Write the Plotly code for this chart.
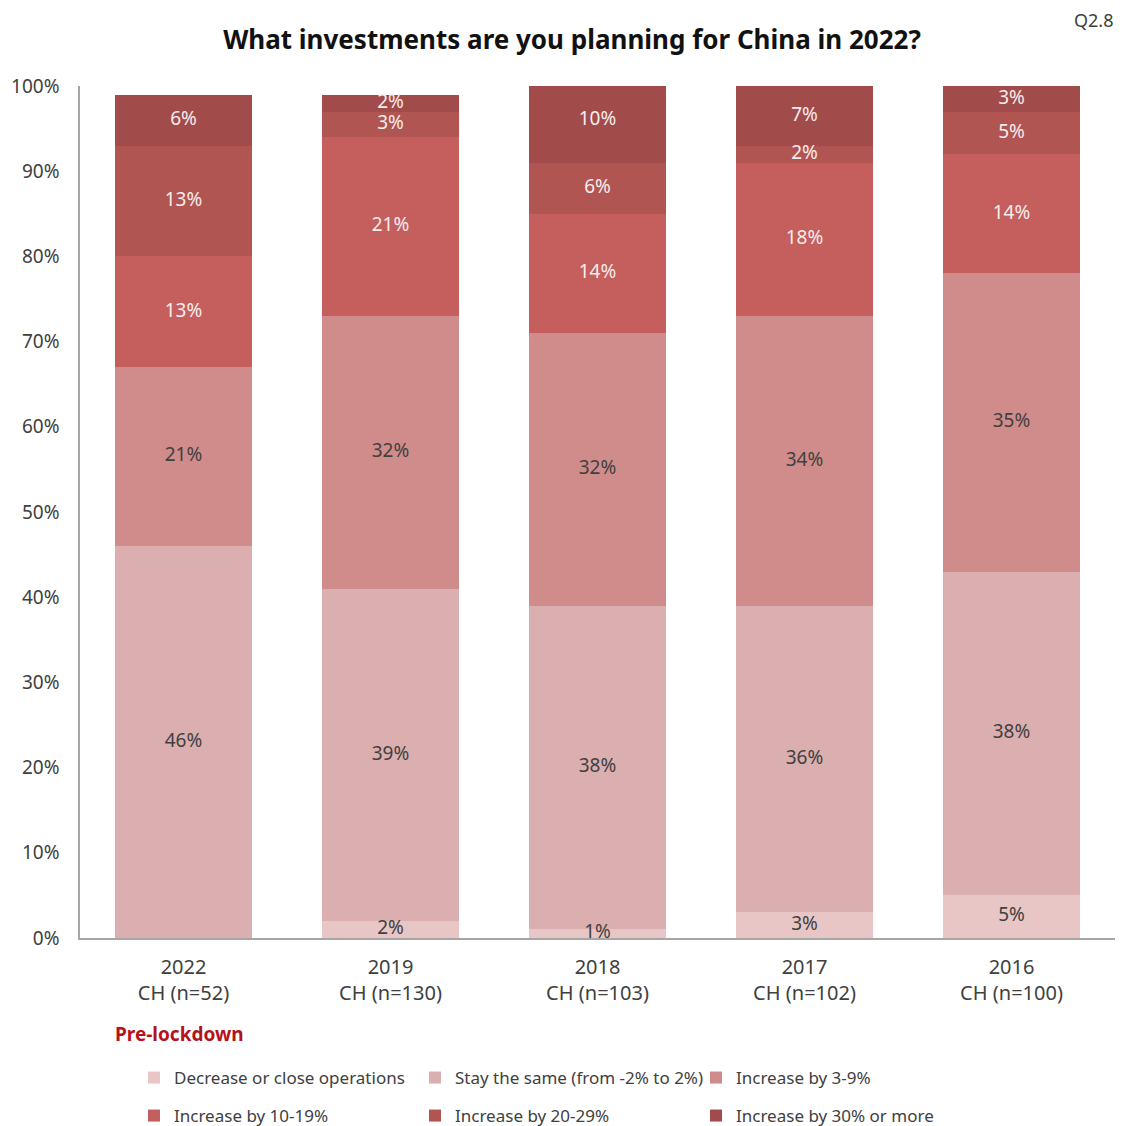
import plotly.graph_objects as go

# Survey waves shown on the x axis
categories = ["2022<br>CH (n=52)", "2019<br>CH (n=130)", "2018<br>CH (n=103)",
              "2017<br>CH (n=102)", "2016<br>CH (n=100)"]

# Share of respondents per answer (percent), bottom to top of each stack
series_names = [
    "Decrease or close operations",
    "Stay the same (from -2% to 2%)",
    "Increase by 3-9%",
    "Increase by 10-19%",
    "Increase by 20-29%",
    "Increase by 30% or more",
]
decrease = [0, 2, 1, 3, 5]
stay_same = [46, 39, 38, 36, 38]
inc_3_9 = [21, 32, 32, 34, 35]
inc_10_19 = [13, 21, 14, 18, 14]
inc_20_29 = [13, 3, 6, 2, 5]
inc_30_plus = [6, 2, 10, 7, 3]

series_values = [decrease, stay_same, inc_3_9, inc_10_19, inc_20_29, inc_30_plus]
colors = ["#e8c6c6", "#dbafaf", "#d08c8a", "#c45f5d", "#b15553", "#a24b4b"]
label_colors = ["#404040", "#404040", "#404040", "#f6ecec", "#f6ecec", "#f6ecec"]

FONT = "Noto Sans"
W, H = 1138, 1126
M_L, M_R, M_T, M_B = 80, 23, 86, 188
PLOT_W = W - M_L - M_R
PLOT_H = H - M_T - M_B

fig = go.Figure()

# Stacked bars
for i, (name, vals, col) in enumerate(zip(series_names, series_values, colors)):
    fig.add_trace(go.Bar(
        x=categories,
        y=vals,
        name=name,
        legend="legend" if i < 3 else "legend2",
        marker=dict(color=col, line=dict(width=0)),
        width=0.66,
        hoverinfo="skip",
    ))

# Value labels centred in each stacked segment (may spill past the axes)
base = [0] * len(categories)
for name, vals, tcol in zip(series_names, series_values, label_colors):
    mids = [b + v / 2 for b, v in zip(base, vals)]
    fig.add_trace(go.Scatter(
        x=categories,
        y=mids,
        mode="text",
        text=[f"{v}%" if v else "" for v in vals],
        textposition="middle center",
        textfont=dict(family=FONT, size=19, color=tcol),
        cliponaxis=False,
        showlegend=False,
        hoverinfo="skip",
    ))
    base = [b + v for b, v in zip(base, vals)]

legend_common = dict(
    orientation="h",
    xref="container",
    x=134 / W, xanchor="left",
    yref="container", yanchor="middle",
    traceorder="normal",
    entrywidth=236,
    entrywidthmode="pixels",
    font=dict(family=FONT, size=17, color="#404040"),
    itemwidth=30,
    bgcolor="rgba(0,0,0,0)",
)

fig.update_layout(
    barmode="stack",
    width=W,
    height=H,
    plot_bgcolor="white",
    paper_bgcolor="white",
    margin=dict(l=M_L, r=M_R, t=M_T, b=M_B, autoexpand=False),
    font=dict(family=FONT, color="#404040"),
    title=dict(
        text="<b>What investments are you planning for China in 2022?</b>",
        x=572 / W, xanchor="center", xref="container",
        y=1 - 40 / H, yref="container", yanchor="middle",
        font=dict(family=FONT, size=26, color="#111111"),
    ),
    showlegend=True,
    legend=dict(legend_common, y=1 - 1078 / H),
    legend2=dict(legend_common, y=1 - 1116 / H),
)

fig.update_yaxes(
    range=[0, 100],
    tickvals=list(range(0, 101, 10)),
    ticktext=[f"{v}%" for v in range(0, 101, 10)],
    showgrid=False,
    showline=True,
    linecolor="#a6a6a6",
    linewidth=1.5,
    ticks="",
    tickfont=dict(family=FONT, size=19, color="#404040"),
    ticklabelstandoff=15,
    zeroline=False,
)
fig.update_xaxes(
    showline=True,
    linecolor="#a6a6a6",
    linewidth=1.5,
    ticks="",
    tickfont=dict(family=FONT, size=20, color="#404040"),
    ticklabelstandoff=10,
)

fig.add_annotation(
    text="Q2.8", xref="paper", yref="paper",
    x=1.0, xanchor="right", y=1 + (M_T - 20) / PLOT_H, yanchor="middle",
    showarrow=False, font=dict(family=FONT, size=18, color="#404040"),
)
fig.add_annotation(
    text="<b>Pre-lockdown</b>", xref="paper", yref="paper",
    x=(113 - M_L) / PLOT_W, xanchor="left",
    y=-(1034 - 938) / PLOT_H, yanchor="middle",
    showarrow=False, font=dict(family=FONT, size=19, color="#b5121b"),
)

fig.write_html("out.html")
